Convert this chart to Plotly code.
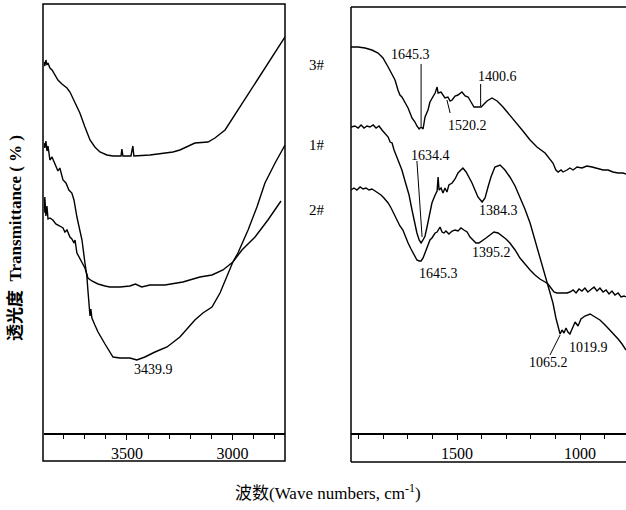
import plotly.graph_objects as go

# ---------------- Left panel (O-H stretching region) ----------------
# wavenumbers (cm-1) and transmittance (arbitrary, offset units)
wn_L3 = [3893, 3889, 3884, 3879, 3874, 3865, 3855, 3841, 3827, 3808, 3784, 3770, 3746, 3723, 3699, 3675,
         3652, 3628, 3595, 3566, 3528, 3524, 3519, 3481, 3472, 3467, 3391, 3344, 3282, 3249, 3216, 3178,
         3116, 3083, 3035, 2964, 2903, 2832, 2751]
t_L3 = [370, 366, 372, 367, 369, 364, 362, 357, 352, 348, 344, 340, 329, 319, 305, 292,
        285, 280, 277, 276, 276, 283, 276, 276, 286, 276, 277, 278, 280, 282, 285, 289,
        290, 294, 302, 325, 345, 369, 395]

wn_L1 = [3893, 3889, 3884, 3879, 3874, 3870, 3865, 3855, 3841, 3827, 3818, 3803, 3789, 3775, 3761, 3751,
         3737, 3723, 3713, 3699, 3690, 3685, 3680, 3675, 3671, 3666, 3652, 3637, 3604, 3566, 3533, 3486,
         3453, 3415, 3367, 3310, 3249, 3201, 3178, 3140, 3097, 3059, 3026, 2998, 2974, 2926, 2884, 2846,
         2798, 2751]
t_L1 = [289, 284, 291, 281, 286, 276, 272, 275, 267, 261, 264, 252, 249, 242, 239, 232,
        215, 202, 192, 169, 156, 142, 129, 116, 123, 114, 107, 100, 88, 75, 74, 74,
        72, 75, 80, 85, 95, 107, 112, 119, 125, 139, 155, 170, 179, 202, 225, 249,
        269, 287]

wn_L2 = [3893, 3889, 3884, 3879, 3874, 3865, 3851, 3837, 3818, 3803, 3794, 3784, 3770, 3761, 3751, 3746,
         3737, 3723, 3709, 3699, 3690, 3685, 3666, 3637, 3604, 3581, 3533, 3486, 3460, 3430, 3391, 3320,
         3235, 3154, 3097, 3045, 2998, 2955, 2893, 2832, 2770]
t_L2 = [219, 235, 216, 226, 213, 214, 212, 208, 206, 204, 200, 202, 195, 193, 189, 192,
        179, 174, 169, 164, 158, 154, 151, 148, 146, 145, 145, 146, 148, 145, 147, 147,
        150, 155, 157, 162, 170, 182, 195, 212, 231]

# ---------------- Right panel (fingerprint region) ----------------
wn_R3 = [1931, 1902, 1874, 1846, 1821, 1801, 1780, 1764, 1752, 1740,
         1732, 1724, 1711, 1699, 1683, 1671, 1663, 1654, 1646, 1638,
         1630, 1618, 1610, 1598, 1589, 1581, 1577, 1565, 1549, 1537,
         1528, 1520, 1508, 1496, 1480, 1467, 1455, 1443, 1431, 1415,
         1402, 1394, 1378, 1358, 1337, 1313, 1285, 1256, 1232, 1203,
         1175, 1142, 1122, 1110, 1098, 1089, 1077, 1069, 1053, 1041,
         1028, 1012, 992, 972, 951, 931, 906, 886, 866, 845,
         825, 813]
t_R3 = [385, 385, 384, 382, 379, 374, 365, 358, 352, 342,
        337, 335, 330, 324, 314, 310, 306, 303, 305, 303,
        315, 322, 330, 336, 339, 345, 339, 340, 334, 335,
        331, 332, 336, 337, 340, 336, 335, 330, 325, 325,
        325, 327, 331, 334, 331, 325, 317, 309, 301, 292,
        285, 279, 272, 269, 262, 260, 262, 260, 262, 264,
        262, 265, 264, 266, 265, 264, 262, 262, 260, 259,
        259, 258]

wn_R1 = [1931, 1915, 1902, 1890, 1878, 1866, 1854, 1841, 1829, 1817,
         1805, 1793, 1780, 1772, 1764, 1756, 1744, 1736, 1724, 1715,
         1703, 1695, 1683, 1675, 1663, 1654, 1646, 1638, 1630, 1622,
         1610, 1602, 1589, 1581, 1577, 1573, 1565, 1557, 1549, 1541,
         1533, 1520, 1508, 1496, 1484, 1476, 1463, 1451, 1439, 1427,
         1415, 1398, 1386, 1374, 1362, 1346, 1325, 1305, 1285, 1264,
         1244, 1224, 1203, 1183, 1163, 1146, 1134, 1122, 1110, 1098,
         1089, 1081, 1073, 1065, 1057, 1049, 1041, 1032, 1020, 1008,
         996, 980, 959, 939, 919, 898, 878, 862, 845, 829,
         813]
t_R1 = [305, 306, 304, 307, 304, 306, 305, 307, 304, 306,
        302, 299, 295, 290, 289, 282, 275, 270, 262, 254,
        245, 237, 222, 212, 199, 192, 189, 192, 196, 205,
        220, 229, 237, 241, 255, 242, 244, 239, 244, 240,
        247, 249, 253, 259, 262, 264, 260, 255, 249, 242,
        235, 230, 234, 245, 255, 265, 267, 262, 255, 246,
        235, 223, 209, 192, 175, 162, 152, 140, 129, 114,
        104, 98, 102, 99, 104, 100, 98, 103, 110, 106,
        113, 116, 118, 115, 112, 107, 102, 98, 93, 88,
        82]

wn_R2 = [1931, 1919, 1907, 1894, 1882, 1870, 1858, 1846, 1833, 1821,
         1809, 1797, 1780, 1768, 1760, 1752, 1740, 1732, 1720, 1711,
         1699, 1687, 1679, 1671, 1663, 1654, 1646, 1638, 1630, 1622,
         1610, 1602, 1589, 1581, 1573, 1569, 1561, 1553, 1545, 1533,
         1520, 1508, 1496, 1484, 1472, 1459, 1447, 1435, 1423, 1411,
         1398, 1382, 1366, 1350, 1333, 1317, 1301, 1285, 1264, 1244,
         1224, 1203, 1183, 1163, 1142, 1130, 1118, 1106, 1094, 1073,
         1053, 1041, 1028, 1016, 1004, 992, 980, 968, 955, 943,
         931, 919, 906, 894, 882, 870, 858, 845, 833, 821,
         813]
t_R2 = [242, 244, 242, 245, 243, 244, 242, 243, 241, 239,
        237, 234, 229, 224, 220, 215, 210, 206, 202, 196,
        189, 183, 179, 175, 172, 171, 171, 174, 179, 184,
        192, 194, 199, 200, 204, 205, 200, 199, 201, 198,
        201, 202, 201, 204, 202, 200, 195, 192, 189, 189,
        191, 194, 197, 200, 199, 196, 193, 189, 182, 174,
        168, 162, 157, 153, 150, 148, 144, 140, 139, 139,
        139, 140, 142, 139, 143, 141, 144, 140, 143, 145,
        141, 144, 140, 142, 138, 141, 137, 139, 135, 136,
        135]

sample_labels = ["3#", "1#", "2#"]
x_ticks_left = [3500, 3000]
x_ticks_right = [1500, 1000]

SERIF = "Liberation Serif, 'Noto Sans CJK SC', serif"
LINE = dict(color="black", width=1.4)

fig = go.Figure()
for wn, t in [(wn_L3, t_L3), (wn_L1, t_L1), (wn_L2, t_L2)]:
    fig.add_trace(go.Scatter(x=wn, y=t, mode="lines", line=LINE, xaxis="x", yaxis="y",
                             hoverinfo="skip", showlegend=False))
for wn, t in [(wn_R3, t_R3), (wn_R1, t_R1), (wn_R2, t_R2)]:
    fig.add_trace(go.Scatter(x=wn, y=t, mode="lines", line=LINE, xaxis="x2", yaxis="y2",
                             hoverinfo="skip", showlegend=False))

W, H = 626, 510
ydom = [77 / H, 506 / H]
tickfont = dict(family=SERIF, size=16, color="black")

fig.update_layout(
    width=W, height=H,
    margin=dict(l=0, r=0, t=0, b=0),
    paper_bgcolor="white", plot_bgcolor="white",
    showlegend=False,
    xaxis=dict(domain=[44 / W, 285 / W], range=[3893, 2751], anchor="y",
               showline=True, linecolor="black", linewidth=1.5, mirror=False,
               ticks="outside", ticklen=5, tickwidth=1.3, tickcolor="black",
               tickmode="array", tickvals=x_ticks_left, ticktext=[str(v) for v in x_ticks_left],
               minor=dict(ticks="outside", ticklen=4, tickwidth=1.2, tickcolor="black",
                          tickvals=list(range(3800, 2700, -100))),
               showgrid=False, zeroline=False, tickfont=tickfont),
    yaxis=dict(domain=ydom, range=[-1, 428], visible=False, anchor="x"),
    xaxis2=dict(domain=[351 / W, 1.0], range=[1931, 813], anchor="y2",
                showline=True, linecolor="black", linewidth=1.5,
                ticks="outside", ticklen=5, tickwidth=1.3, tickcolor="black",
                tickmode="array", tickvals=x_ticks_right, ticktext=[str(v) for v in x_ticks_right],
                minor=dict(ticks="outside", ticklen=4, tickwidth=1.2, tickcolor="black",
                           tickvals=list(range(1900, 800, -100))),
                showgrid=False, zeroline=False, tickfont=tickfont),
    yaxis2=dict(domain=ydom, range=[-1, 428], visible=False, anchor="x2"),
)

# panel frames
frame = dict(color="black", width=1.5)
shapes = [
    dict(type="rect", xref="paper", yref="paper", x0=43 / W, x1=285 / W,
         y0=(H - 461) / H, y1=(H - 4) / H, line=frame, fillcolor="rgba(0,0,0,0)"),
    dict(type="line", xref="paper", yref="paper", x0=351 / W, x1=351 / W,
         y0=(H - 462) / H, y1=(H - 7) / H, line=frame),
    dict(type="line", xref="paper", yref="paper", x0=351 / W, x1=1.0,
         y0=(H - 7) / H, y1=(H - 7) / H, line=frame),
    dict(type="line", xref="paper", yref="paper", x0=351 / W, x1=1.0,
         y0=(H - 462) / H, y1=(H - 462) / H, line=frame),
]
# peak pointer lines (right panel)
ptr = dict(color="black", width=1)
for x0, y0, x1, y1 in [(1646, 368, 1646, 306), (1541, 332, 1528, 319), (1404, 348, 1404, 326),
                       (1663, 271, 1642, 195), (1122, 77, 1081, 97)]:
    shapes.append(dict(type="line", xref="x2", yref="y2", x0=x0, y0=y0, x1=x1, y1=y1, line=ptr))
fig.update_layout(shapes=shapes)

afont = dict(family=SERIF, size=14, color="black")
annotations = [
    dict(x=3372, y=63, xref="x", yref="y", text="3439.9"),
    dict(x=1691, y=377, xref="x2", yref="y2", text="1645.3"),
    dict(x=1459, y=306, xref="x2", yref="y2", text="1520.2"),
    dict(x=1337, y=355, xref="x2", yref="y2", text="1400.6"),
    dict(x=1606, y=277, xref="x2", yref="y2", text="1634.4"),
    dict(x=1333, y=222, xref="x2", yref="y2", text="1384.3"),
    dict(x=1358, y=180, xref="x2", yref="y2", text="1395.2"),
    dict(x=1577, y=159, xref="x2", yref="y2", text="1645.3"),
    dict(x=1130, y=70, xref="x2", yref="y2", text="1065.2"),
    dict(x=967, y=85, xref="x2", yref="y2", text="1019.9"),
]
for a in annotations:
    a.update(showarrow=False, font=afont, xanchor="center", yanchor="middle")

for lab, py in zip(sample_labels, [65, 145, 210]):
    annotations.append(dict(x=317 / W, y=(H - py) / H, xref="paper", yref="paper", text=lab,
                            showarrow=False, font=dict(family=SERIF, size=15, color="black"),
                            xanchor="center", yanchor="middle"))

annotations.append(dict(x=15 / W, y=(H - 238) / H, xref="paper", yref="paper",
                        text="<b>透光度  Transmittance ( % )</b>", textangle=-90, showarrow=False,
                        font=dict(family=SERIF, size=17, color="black"),
                        xanchor="center", yanchor="middle"))
annotations.append(dict(x=328 / W, y=(H - 492) / H, xref="paper", yref="paper",
                        text="波数(Wave numbers, cm<sup>-1</sup>)", showarrow=False,
                        font=dict(family=SERIF, size=17, color="black"),
                        xanchor="center", yanchor="middle"))
fig.update_layout(annotations=annotations)

# remove the browser's default 8px body margin so the figure sits at the page origin
fig.write_html("out.html",
               config={"displayModeBar": False},
               post_script="document.body.style.margin='0';document.body.style.overflow='hidden';")
